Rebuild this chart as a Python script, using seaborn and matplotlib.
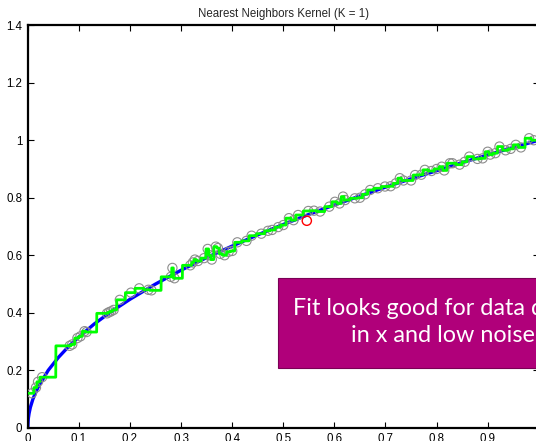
import numpy as np
import pandas as pd
import matplotlib
matplotlib.use('Agg')
import matplotlib.pyplot as plt
from matplotlib.patches import Rectangle
import seaborn as sns

sns.set_style('white')
plt.rcParams['font.family'] = ['Liberation Sans', 'DejaVu Sans']

# true function (blue)
true_x = [0, 0.001, 0.0025, 0.005, 0.01, 0.02, 0.04, 0.06, 0.08, 0.1, 0.13, 0.16, 0.2, 0.25,
          0.3, 0.35, 0.4, 0.45, 0.5, 0.55, 0.6, 0.65, 0.7, 0.75, 0.8, 0.85, 0.9, 0.95, 1.0]
true_y = [0, 0.032, 0.05, 0.071, 0.1, 0.141, 0.2, 0.245, 0.283, 0.316, 0.361, 0.4, 0.447, 0.5,
          0.548, 0.592, 0.632, 0.671, 0.707, 0.742, 0.775, 0.806, 0.837, 0.866, 0.894, 0.922,
          0.949, 0.975, 1.0]

# noisy observations (grey circles)
obs_x = [0.008, 0.016, 0.020, 0.028,
         0.082, 0.087, 0.097, 0.103, 0.111, 0.115,
         0.155, 0.159, 0.163, 0.168,
         0.180, 0.202, 0.218, 0.236, 0.242,
         0.280, 0.283, 0.287,
         0.318, 0.323, 0.327, 0.333, 0.345, 0.352, 0.356, 0.360, 0.368, 0.372, 0.377,
         0.385, 0.393, 0.400, 0.410, 0.428, 0.438, 0.457, 0.470, 0.478,
         0.490, 0.500, 0.511, 0.520, 0.529, 0.549, 0.560, 0.572,
         0.590, 0.601, 0.610, 0.617, 0.621, 0.640, 0.650, 0.660, 0.670,
         0.685, 0.699, 0.710, 0.720, 0.728, 0.735, 0.750, 0.758, 0.770, 0.777,
         0.790, 0.800, 0.810, 0.815, 0.826, 0.831, 0.845, 0.855, 0.864, 0.880,
         0.890, 0.900, 0.905, 0.915, 0.923, 0.935, 0.945, 0.955, 0.965, 0.981, 0.990]
obs_y = [0.120, 0.140, 0.160, 0.176,
         0.285, 0.290, 0.312, 0.318, 0.336, 0.333,
         0.398, 0.402, 0.405, 0.410,
         0.445, 0.470, 0.485, 0.480, 0.478,
         0.525, 0.556, 0.520,
         0.565, 0.575, 0.585, 0.580, 0.590, 0.622, 0.600, 0.585, 0.630, 0.625, 0.605,
         0.600, 0.612, 0.615, 0.645, 0.650, 0.668, 0.675, 0.685, 0.688,
         0.698, 0.705, 0.729, 0.722, 0.740, 0.754, 0.755, 0.752,
         0.769, 0.786, 0.780, 0.804, 0.792, 0.798, 0.800, 0.812, 0.827,
         0.833, 0.839, 0.840, 0.850, 0.868, 0.860, 0.860, 0.879, 0.880, 0.897,
         0.893, 0.900, 0.908, 0.895, 0.920, 0.920, 0.915, 0.925, 0.943, 0.935,
         0.937, 0.960, 0.950, 0.955, 0.978, 0.965, 0.970, 0.984, 0.975, 1.007, 1.000]

query_x = [0.546]
query_y = [0.720]

xticks = [0, 0.1, 0.2, 0.3, 0.4, 0.5, 0.6, 0.7, 0.8, 0.9, 1.0]
xtick_labels = ['0', '0.1', '0.2', '0.3', '0.4', '0.5', '0.6', '0.7', '0.8', '0.9', '1']
yticks = [0, 0.2, 0.4, 0.6, 0.8, 1.0, 1.2, 1.4]
ytick_labels = ['0', '0.2', '0.4', '0.6', '0.8', '1', '1.2', '1.4']

obs = pd.DataFrame({'x': obs_x, 'y': obs_y})

# 1-nearest-neighbour fit on a fine grid
grid = np.linspace(0, 1, 3000)
idx = np.abs(grid[:, None] - obs['x'].values[None, :]).argmin(axis=1)
fit = obs['y'].values[idx]

W, H = 536, 441
fig = plt.figure(figsize=(W / 100, H / 100), dpi=100)
ax = fig.add_axes([27.8 / W, 1 - 427.8 / H, 511 / W, 402.6 / H])

sns.lineplot(x=true_x, y=true_y, ax=ax, color='#0000ff', linewidth=2.4,
             estimator=None, sort=False, zorder=2)
sns.scatterplot(data=obs, x='x', y='y', ax=ax, s=44, facecolor='none',
                edgecolor='#8c8c8c', linewidth=0.8, zorder=3)
sns.lineplot(x=grid, y=fit, ax=ax, color='#00ff00', linewidth=2.0,
             estimator=None, sort=False, zorder=4)
ax.scatter(query_x, query_y, s=44, facecolor='none', edgecolor='red',
           linewidth=1.0, zorder=5)

ax.set_xlim(0, 1)
ax.set_ylim(0, 1.4)
ax.set_xticks(xticks)
ax.set_xticklabels(xtick_labels)
ax.set_yticks(yticks)
ax.set_yticklabels(ytick_labels)
ax.set_xlabel('')
ax.set_ylabel('')
ax.tick_params(direction='in', length=4, width=0.8, labelsize=8.3, pad=4,
               top=True, right=True, bottom=True, left=True, colors='black')
for s in ax.spines.values():
    s.set_visible(True)
    s.set_color('black')
    s.set_linewidth(1.6)
ax.set_title('Nearest Neighbors Kernel (K = 1)', fontsize=8.3, pad=6)

# callout box
fig.patches.append(Rectangle((277.7 / W, 1 - 368.3 / H), 400 / W, 90.6 / H,
                             transform=fig.transFigure, facecolor='#b0007a',
                             edgecolor='#7a0055', linewidth=0.8, zorder=10))
fig.text(293.3 / W, 1 - 322 / H, 'Fit looks good for data dense\nin x and low noise',
         ha='left', va='center', multialignment='center', color='white',
         fontsize=16.8, family=['Lato', 'DejaVu Sans'], linespacing=1.3, zorder=11)

fig.savefig('out.png', dpi=100)
